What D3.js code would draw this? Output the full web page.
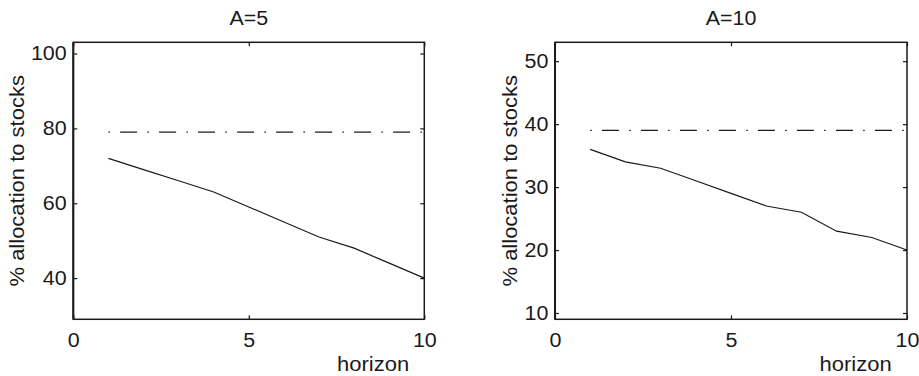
<!DOCTYPE html>
<html>
<head>
<meta charset="utf-8">
<script src="https://cdn.jsdelivr.net/npm/d3@7"></script>
<style>
  body { margin: 0; background: #fff; }
  text { font-family: "Liberation Sans", Arial, Helvetica, sans-serif; fill: #1a1a1a; }
</style>
</head>
<body>
<script>
// horizon in years, and stock share for the two risk aversion levels
let horizon = [1, 2, 3, 4, 5, 6, 7, 8, 9, 10]
let allocA5 = [72, 69, 66, 63, 59, 55, 51, 48, 44, 40]
let allocA10 = [36, 34, 33, 31, 29, 27, 26, 23, 22, 20]
let flatA5 = [79, 79]
let flatA10 = [39, 39]
let flatX = [1, 10]
let xTicks = [0, 5, 10]
let yTicksA5 = [40, 60, 80, 100]
let yTicksA10 = [10, 20, 30, 40, 50]

let width = 919
let height = 376
let stretch = 1.1  // the source glyphs are a bit wider than Liberation Sans

let panels = [
  {title: "A=5", left: 73.3, right: 424.3, ydom: [29, 103], yticks: yTicksA5, vals: allocA5, flat: flatA5, labelGap: 49.8},
  {title: "A=10", left: 555, right: 907, ydom: [9, 53], yticks: yTicksA10, vals: allocA10, flat: flatA10, labelGap: 38.3}
]
let plotTop = 42.3, plotBottom = 319.3

let svg = d3.select("body").append("svg")
  .attr("width", width)
  .attr("height", height)

panels.forEach(p => {
  let x = d3.scaleLinear().domain([0, 10]).range([p.left, p.right])
  let y = d3.scaleLinear().domain(p.ydom).range([plotBottom, plotTop])
  let g = svg.append("g")

  // inward ticks on all four sides
  let yl = g.append("g").attr("transform", `translate(${p.left},0)`)
    .call(d3.axisLeft(y).tickValues(p.yticks).tickSizeInner(-4).tickSizeOuter(0).tickPadding(6))
  let yr = g.append("g").attr("transform", `translate(${p.right},0)`)
    .call(d3.axisRight(y).tickValues(p.yticks).tickSizeInner(-4).tickSizeOuter(0).tickFormat(""))
  let xb = g.append("g").attr("transform", `translate(0,${plotBottom})`)
    .call(d3.axisBottom(x).tickValues(xTicks).tickSizeInner(-4).tickSizeOuter(0).tickPadding(13.5))
  let xt = g.append("g").attr("transform", `translate(0,${plotTop})`)
    .call(d3.axisTop(x).tickValues(xTicks).tickSizeInner(-4).tickSizeOuter(0).tickFormat(""))

  ;[yl, yr, xb, xt].forEach(a => {
    a.select(".domain").remove()
    a.selectAll("line").attr("stroke", "#1a1a1a").attr("stroke-width", 1.2)
    a.selectAll("text")
      .attr("fill", "#1a1a1a")
      .style("font-size", "19.5px")
      .attr("transform", `scale(${stretch},1)`)
  })

  // box
  g.append("rect")
    .attr("x", p.left).attr("y", plotTop)
    .attr("width", p.right - p.left).attr("height", plotBottom - plotTop)
    .attr("fill", "none").attr("stroke", "#1a1a1a").attr("stroke-width", 1.5)
  g.append("line")
    .attr("x1", p.left).attr("x2", p.left).attr("y1", plotTop).attr("y2", plotBottom)
    .attr("stroke", "#1a1a1a").attr("stroke-width", 2)

  let line = d3.line().x(d => x(d[0])).y(d => y(d[1]))

  // myopic benchmark, dash-dot
  g.append("path")
    .attr("d", line(flatX.map((h, i) => [h, p.flat[i]])))
    .attr("fill", "none").attr("stroke", "#1a1a1a").attr("stroke-width", 1.2)
    .attr("stroke-dasharray", "1.5,10.2,17,10.3")

  g.append("path")
    .attr("d", line(horizon.map((h, i) => [h, p.vals[i]])))
    .attr("fill", "none").attr("stroke", "#1a1a1a").attr("stroke-width", 1.2)

  // title
  g.append("text")
    .attr("transform", `translate(${(p.left + p.right) / 2},25) scale(${stretch},1)`)
    .attr("text-anchor", "middle")
    .style("font-size", "19.5px")
    .text(p.title)

  // x label
  g.append("text")
    .attr("transform", `translate(${x(8.54)},370.7) scale(${stretch},1)`)
    .attr("text-anchor", "middle")
    .style("font-size", "20px")
    .text("horizon")

  // y label
  g.append("text")
    .attr("transform", `translate(${p.left - p.labelGap},${(plotTop + plotBottom) / 2}) rotate(-90) scale(${stretch},1)`)
    .attr("text-anchor", "middle")
    .style("font-size", "20px")
    .text("% allocation to stocks")
})
</script>
</body>
</html>
